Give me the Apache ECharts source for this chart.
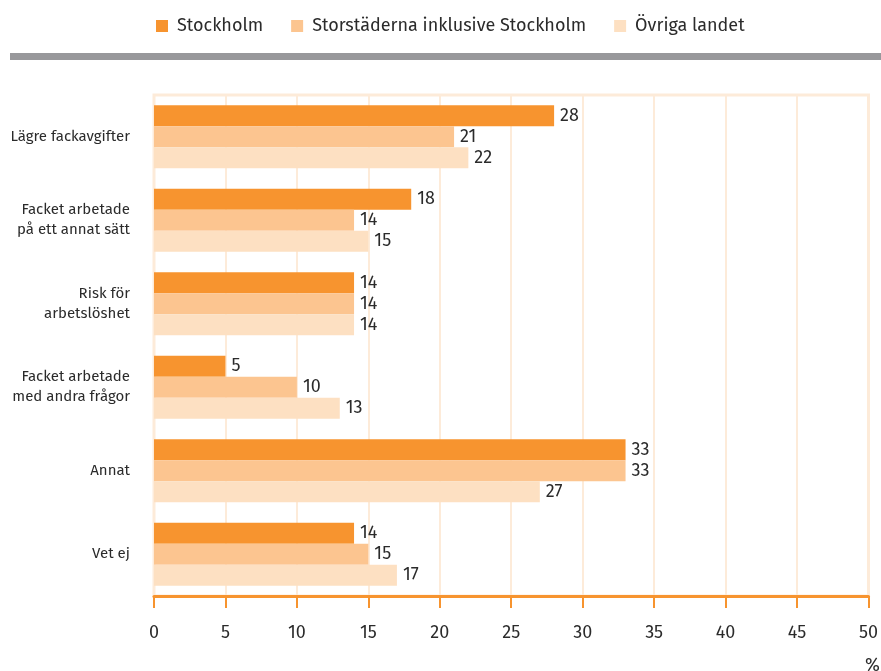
<!DOCTYPE html>
<html>
<head>
<meta charset="utf-8">
<script src="https://cdn.jsdelivr.net/npm/echarts@6/dist/echarts.min.js"></script>
<style>
  html, body { margin: 0; padding: 0; background: #fff; }
  #main { width: 881px; height: 671px; }
</style>
</head>
<body>
<div id="main"></div>
<script>
// kategorier (uppifrån och ned)
const categories = ['Lägre fackavgifter', 'Facket arbetade\npå ett annat sätt', 'Risk för\narbetslöshet', 'Facket arbetade\nmed andra frågor', 'Annat', 'Vet ej'];
const stockholm = [28, 18, 14, 5, 33, 14];
const storstader = [21, 14, 14, 10, 33, 15];
const ovriga = [22, 15, 14, 13, 27, 17];
const seriesNames = ['Stockholm', 'Storstäderna inklusive Stockholm', 'Övriga landet'];
const colors = ['#f7942f', '#fcc590', '#fde0c2'];

const font = 'Fira Sans, "Noto Sans", sans-serif';

let myChart = echarts.init(document.getElementById('main'));

function makeSeries(name, data, color) {
  return {
    name: name,
    type: 'bar',
    data: data,
    barGap: 0,
    barCategoryGap: '24.5%',
    itemStyle: { color: color },
    label: {
      show: true,
      position: 'right',
      distance: 6,
      color: '#2b2b2b',
      fontSize: 18,
      fontFamily: font
    }
  };
}

let option = {
  animation: false,
  textStyle: { fontFamily: font },
  legend: {
    top: 12,
    left: 151,
    itemWidth: 12,
    itemHeight: 12,
    itemGap: 28,
    icon: 'rect',
    textStyle: { fontSize: 18, color: '#2b2b2b', padding: [0, 0, 0, 4] },
    data: seriesNames
  },
  grid: {
    left: 154,
    right: 12,
    top: 95,
    bottom: 75,
    show: true,
    borderColor: '#fdebd9',
    borderWidth: 3
  },
  xAxis: {
    type: 'value',
    min: 0,
    max: 50,
    interval: 5,
    axisLine: { show: true, lineStyle: { color: '#f7942f', width: 3 } },
    axisTick: { show: true, length: 12, lineStyle: { color: '#f7942f', width: 2 } },
    axisLabel: { color: '#2b2b2b', fontSize: 18, margin: 28 },
    splitLine: { show: true, lineStyle: { color: '#fdebd9', width: 2 } }
  },
  yAxis: {
    type: 'category',
    inverse: true,
    data: categories,
    axisLine: { show: false },
    axisTick: { show: false },
    axisLabel: { color: '#2b2b2b', fontSize: 15, lineHeight: 20, margin: 24, align: 'right' }
  },
  series: [
    makeSeries(seriesNames[0], stockholm, colors[0]),
    makeSeries(seriesNames[1], storstader, colors[1]),
    makeSeries(seriesNames[2], ovriga, colors[2])
  ],
  graphic: [
    {
      type: 'rect',
      shape: { x: 10, y: 53, width: 871, height: 7 },
      style: { fill: '#98989b' }
    },
    {
      type: 'text',
      x: 865,
      y: 657,
      style: { text: '%', fontSize: 18, fill: '#2b2b2b', fontFamily: font }
    }
  ]
};
myChart.setOption(option);
</script>
</body>
</html>
